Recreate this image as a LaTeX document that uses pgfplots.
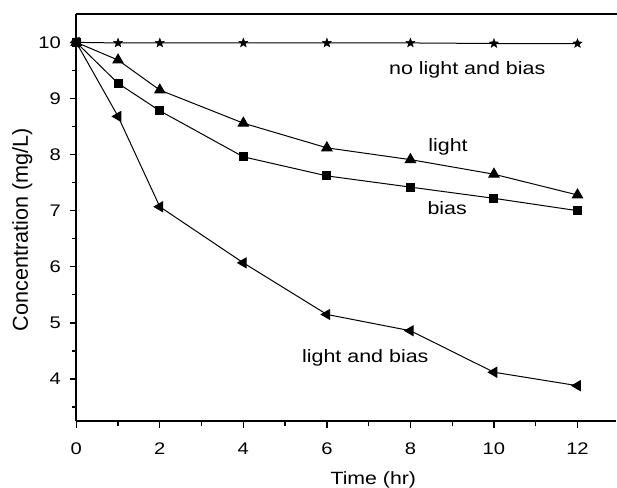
\documentclass[border=0pt]{standalone}
\usepackage{pgfplots}
\pgfplotsset{compat=1.18}
\usepackage{fontspec}
\setmainfont{Liberation Sans}[FakeStretch=1.2]
\newfontfamily\plainsans{Liberation Sans}
\newcommand{\tickfont}{\fontsize{12.6}{15}\selectfont}
\newcommand{\labfont}{\fontsize{13.3}{16}\selectfont}
\newcommand{\ylabfont}{\plainsans\fontsize{16.2}{19}\selectfont}
\newcommand{\txtfont}{\fontsize{13.4}{16}\selectfont}
\pgfdeclareplotmark{fstar}{%
  \pgfpathmoveto{\pgfpointpolar{90}{\pgfplotmarksize}}%
  \pgfpathlineto{\pgfpointpolar{126}{0.42\pgfplotmarksize}}%
  \pgfpathlineto{\pgfpointpolar{162}{\pgfplotmarksize}}%
  \pgfpathlineto{\pgfpointpolar{198}{0.42\pgfplotmarksize}}%
  \pgfpathlineto{\pgfpointpolar{234}{\pgfplotmarksize}}%
  \pgfpathlineto{\pgfpointpolar{270}{0.42\pgfplotmarksize}}%
  \pgfpathlineto{\pgfpointpolar{306}{\pgfplotmarksize}}%
  \pgfpathlineto{\pgfpointpolar{342}{0.42\pgfplotmarksize}}%
  \pgfpathlineto{\pgfpointpolar{18}{\pgfplotmarksize}}%
  \pgfpathlineto{\pgfpointpolar{54}{0.42\pgfplotmarksize}}%
  \pgfpathclose
  \pgfusepathqfillstroke
}
\begin{document}
\begin{tikzpicture}
\begin{axis}[
  scale only axis,
  width=405pt, height=305pt,
  xmin=0, xmax=12.93, ymin=3.25, ymax=10.5,
  axis lines*=left,
  axis line style={line width=1.3pt},
  xtick={0,2,4,6,8,10,12},
  minor xtick={1,3,5,7,9,11},
  ytick={4,5,6,7,8,9,10},
  minor ytick={3.5,4.5,5.5,6.5,7.5,8.5,9.5},
  tick align=outside,
  major tick length=5pt,
  minor tick length=3.5pt,
  every tick/.style={line width=1pt, black},
  xticklabel={\tickfont\pgfmathprintnumber[assume math mode=true]{\tick}},
  yticklabel={\tickfont\pgfmathprintnumber[assume math mode=true]{\tick}},
  xticklabel style={yshift=-8pt},
  yticklabel style={xshift=-3pt},
  xlabel={\labfont Time (hr)},
  ylabel={\ylabfont Concentration (mg/L)},
  every axis x label/.style={at={(axis description cs:0.55,0)}, anchor=center, yshift=-44pt},
  every axis y label/.style={at={(axis description cs:0,0.47)}, rotate=90, anchor=center, yshift=40.5pt},
  clip=false,
]
\addplot[black, line width=0.75pt, mark=fstar, mark size=3.6pt, mark options={line width=0.3pt}]
  coordinates {(0,10) (1,9.99) (2,9.99) (4,9.99) (6,9.99) (8,9.99) (10,9.98) (12,9.98)};
\addplot[black, line width=0.75pt, mark=triangle*, mark size=4.4pt]
  coordinates {(0,10) (1,9.685) (2,9.15) (4,8.56) (6,8.12) (8,7.91) (10,7.65) (12,7.28)};
\addplot[black, line width=0.75pt, mark=square*, mark size=3pt]
  coordinates {(0,10) (1,9.27) (2,8.78) (4,7.96) (6,7.62) (8,7.42) (10,7.22) (12,7.0)};
\addplot[black, line width=0.75pt, mark=triangle*, mark size=4.2pt, mark options={rotate=90}]
  coordinates {(0,10) (1,8.68) (2,7.07) (4,6.07) (6,5.15) (8,4.86) (10,4.12) (12,3.88)};
\node[font=\txtfont] at (axis cs:9.36,9.51) {no light and bias};
\node[font=\txtfont] at (axis cs:8.9,8.14) {light};
\node[font=\txtfont] at (axis cs:8.88,7.05) {bias};
\node[font=\txtfont] at (axis cs:6.92,4.38) {light and bias};
\draw[line width=1.3pt] (rel axis cs:0,1) -- (rel axis cs:1.002,1);
\end{axis}
\pgfresetboundingbox
\path (-57.2pt,-50pt) rectangle (405.5pt,315.75pt);
\end{tikzpicture}
\end{document}
